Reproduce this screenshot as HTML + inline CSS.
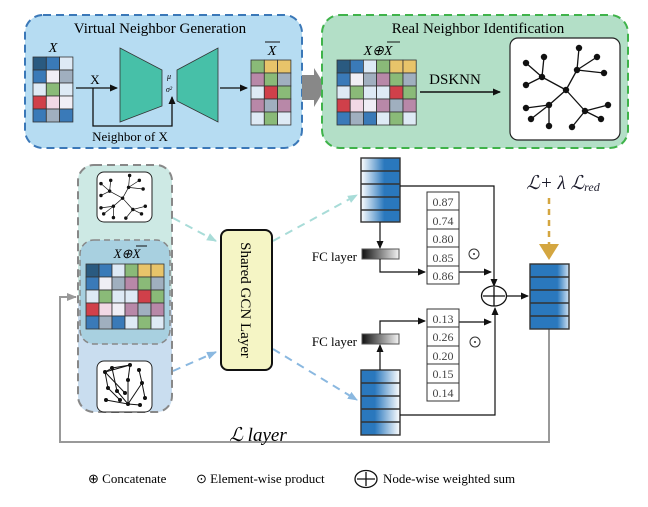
<!DOCTYPE html>
<html><head><meta charset="utf-8"><style>
html,body{margin:0;padding:0;background:#fff;}
svg{display:block;font-family:"Liberation Serif",serif;}
</style></head><body>
<svg width="648" height="507" viewBox="0 0 648 507" xmlns="http://www.w3.org/2000/svg">
<defs>
<marker id="ah" markerWidth="8" markerHeight="8" refX="7" refY="4" orient="auto" markerUnits="userSpaceOnUse"><path d="M0,0.5 L8,4 L0,7.5 Z" fill="#111"/></marker>
<marker id="at" markerWidth="10" markerHeight="10" refX="9" refY="5" orient="auto" markerUnits="userSpaceOnUse"><path d="M0,1 L10,5 L0,9 Z" fill="#a8dcd8"/></marker>
<marker id="ab" markerWidth="10" markerHeight="10" refX="9" refY="5" orient="auto" markerUnits="userSpaceOnUse"><path d="M0,1 L10,5 L0,9 Z" fill="#8ab8e0"/></marker>
<marker id="ag" markerWidth="10" markerHeight="10" refX="9" refY="5" orient="auto" markerUnits="userSpaceOnUse"><path d="M0,1 L10,5 L0,9 Z" fill="#999"/></marker>
<linearGradient id="gTop" x1="0" x2="1"><stop offset="0" stop-color="#ffffff"/><stop offset="0.6" stop-color="#2a78bd"/><stop offset="1" stop-color="#2a78bd"/></linearGradient>
<linearGradient id="gBot" x1="0" x2="1"><stop offset="0" stop-color="#2a78bd"/><stop offset="0.35" stop-color="#2a78bd"/><stop offset="1" stop-color="#ffffff"/></linearGradient>
<linearGradient id="gOut" x1="0" x2="1"><stop offset="0" stop-color="#2a78bd"/><stop offset="0.7" stop-color="#2a78bd"/><stop offset="1" stop-color="#cfe2f3"/></linearGradient>
<linearGradient id="gFC" x1="0" x2="1"><stop offset="0" stop-color="#111"/><stop offset="1" stop-color="#f4f4f4"/></linearGradient>
<g id="tree">
<g stroke="#111" stroke-width="1.3">
<line x1="542" y1="77" x2="526" y2="63"/><line x1="542" y1="77" x2="544" y2="57"/><line x1="542" y1="77" x2="526" y2="85"/><line x1="542" y1="77" x2="566" y2="90"/>
<line x1="577" y1="70" x2="579" y2="48"/><line x1="577" y1="70" x2="597" y2="57"/><line x1="577" y1="70" x2="604" y2="73"/><line x1="577" y1="70" x2="566" y2="90"/>
<line x1="566" y1="90" x2="549" y2="105"/><line x1="549" y1="105" x2="526" y2="108"/><line x1="549" y1="105" x2="531" y2="119"/><line x1="549" y1="105" x2="549" y2="126"/>
<line x1="566" y1="90" x2="585" y2="111"/><line x1="585" y1="111" x2="608" y2="105"/><line x1="585" y1="111" x2="601" y2="119"/><line x1="585" y1="111" x2="572" y2="127"/>
</g>
<g fill="#111">
<circle cx="542" cy="77" r="3.2"/><circle cx="526" cy="63" r="3.2"/><circle cx="544" cy="57" r="3.2"/><circle cx="526" cy="85" r="3.2"/><circle cx="566" cy="90" r="3.2"/>
<circle cx="577" cy="70" r="3.2"/><circle cx="579" cy="48" r="3.2"/><circle cx="597" cy="57" r="3.2"/><circle cx="604" cy="73" r="3.2"/>
<circle cx="549" cy="105" r="3.2"/><circle cx="526" cy="108" r="3.2"/><circle cx="531" cy="119" r="3.2"/><circle cx="549" cy="126" r="3.2"/>
<circle cx="585" cy="111" r="3.2"/><circle cx="608" cy="105" r="3.2"/><circle cx="601" cy="119" r="3.2"/><circle cx="572" cy="127" r="3.2"/>
</g>
</g>
</defs>

<rect x="25" y="15" width="277" height="133" rx="18" fill="#b6dcf2" stroke="#3b78b8" stroke-width="2" stroke-dasharray="8,5"/>
<text x="160" y="33" font-size="15" text-anchor="middle">Virtual Neighbor Generation</text>
<text x="53" y="52" font-size="14" font-style="italic" text-anchor="middle">X</text>
<g stroke="#333" stroke-width="0.8">
<rect x="33" y="57" width="13.3" height="13" fill="#2a5a80"/><rect x="46.3" y="57" width="13.3" height="13" fill="#3a7ab8"/><rect x="59.6" y="57" width="13.3" height="13" fill="#deeaf5"/>
<rect x="33" y="70" width="13.3" height="13" fill="#3a7ab8"/><rect x="46.3" y="70" width="13.3" height="13" fill="#f0eef5"/><rect x="59.6" y="70" width="13.3" height="13" fill="#a0afbf"/>
<rect x="33" y="83" width="13.3" height="13" fill="#deeaf5"/><rect x="46.3" y="83" width="13.3" height="13" fill="#8aba78"/><rect x="59.6" y="83" width="13.3" height="13" fill="#deeaf5"/>
<rect x="33" y="96" width="13.3" height="13" fill="#d0404a"/><rect x="46.3" y="96" width="13.3" height="13" fill="#f2d8e5"/><rect x="59.6" y="96" width="13.3" height="13" fill="#f0eef5"/>
<rect x="33" y="109" width="13.3" height="13" fill="#3a7ab8"/><rect x="46.3" y="109" width="13.3" height="13" fill="#a0afbf"/><rect x="59.6" y="109" width="13.3" height="13" fill="#3a7ab8"/>
</g>
<text x="95" y="84" font-size="13" text-anchor="middle">X</text>
<line x1="76" y1="88" x2="117" y2="88" stroke="#111" stroke-width="1.3" marker-end="url(#ah)"/>
<polyline points="93,88 93,126 172,126 172,97" fill="none" stroke="#111" stroke-width="1.3" marker-end="url(#ah)"/>
<polygon points="120,48 162,70 162,106 120,122" fill="#47c0a8" stroke="#333" stroke-width="0.8"/>
<polygon points="177,70 218,48 218,122 177,101" fill="#47c0a8" stroke="#333" stroke-width="0.8"/>
<text x="169" y="79" font-size="8" font-style="italic" text-anchor="middle">μ</text>
<text x="169" y="92" font-size="8" font-style="italic" text-anchor="middle">σ²</text>
<text x="130" y="141" font-size="13" text-anchor="middle">Neighbor of X</text>
<line x1="220" y1="88" x2="247" y2="88" stroke="#111" stroke-width="1.3" marker-end="url(#ah)"/>
<text x="272" y="55" font-size="14" font-style="italic" text-anchor="middle">X</text>
<line x1="265" y1="42" x2="280" y2="42" stroke="#111" stroke-width="1"/>
<g stroke="#333" stroke-width="0.8">
<rect x="251" y="60" width="13.3" height="13" fill="#8aba78"/><rect x="264.3" y="60" width="13.3" height="13" fill="#e8c46a"/><rect x="277.6" y="60" width="13.3" height="13" fill="#e8c46a"/>
<rect x="251" y="73" width="13.3" height="13" fill="#b888a8"/><rect x="264.3" y="73" width="13.3" height="13" fill="#8aba78"/><rect x="277.6" y="73" width="13.3" height="13" fill="#a0afbf"/>
<rect x="251" y="86" width="13.3" height="13" fill="#deeaf5"/><rect x="264.3" y="86" width="13.3" height="13" fill="#d0404a"/><rect x="277.6" y="86" width="13.3" height="13" fill="#8aba78"/>
<rect x="251" y="99" width="13.3" height="13" fill="#b888a8"/><rect x="264.3" y="99" width="13.3" height="13" fill="#a0afbf"/><rect x="277.6" y="99" width="13.3" height="13" fill="#b888a8"/>
<rect x="251" y="112" width="13.3" height="13" fill="#deeaf5"/><rect x="264.3" y="112" width="13.3" height="13" fill="#8aba78"/><rect x="277.6" y="112" width="13.3" height="13" fill="#deeaf5"/>
</g>
<rect x="302" y="75" width="12" height="25" fill="#888"/>
<polygon points="314,68 326,87 314,107" fill="#888"/>

<rect x="322" y="15" width="306" height="133" rx="18" fill="#b3dfc7" stroke="#3fb34a" stroke-width="2" stroke-dasharray="8,5"/>
<text x="478" y="33" font-size="15" text-anchor="middle">Real Neighbor Identification</text>
<text x="378" y="55" font-size="14" font-style="italic" text-anchor="middle">X⊕X</text>
<line x1="387" y1="42" x2="400" y2="42" stroke="#111" stroke-width="1"/>
<g stroke="#333" stroke-width="0.8">
<rect x="337" y="60" width="13.2" height="13" fill="#2a5a80"/><rect x="350.2" y="60" width="13.2" height="13" fill="#3a7ab8"/><rect x="363.4" y="60" width="13.2" height="13" fill="#deeaf5"/><rect x="376.6" y="60" width="13.2" height="13" fill="#8aba78"/><rect x="389.8" y="60" width="13.2" height="13" fill="#e8c46a"/><rect x="403" y="60" width="13.2" height="13" fill="#e8c46a"/>
<rect x="337" y="73" width="13.2" height="13" fill="#3a7ab8"/><rect x="350.2" y="73" width="13.2" height="13" fill="#f0eef5"/><rect x="363.4" y="73" width="13.2" height="13" fill="#a0afbf"/><rect x="376.6" y="73" width="13.2" height="13" fill="#b888a8"/><rect x="389.8" y="73" width="13.2" height="13" fill="#8aba78"/><rect x="403" y="73" width="13.2" height="13" fill="#a0afbf"/>
<rect x="337" y="86" width="13.2" height="13" fill="#deeaf5"/><rect x="350.2" y="86" width="13.2" height="13" fill="#8aba78"/><rect x="363.4" y="86" width="13.2" height="13" fill="#deeaf5"/><rect x="376.6" y="86" width="13.2" height="13" fill="#deeaf5"/><rect x="389.8" y="86" width="13.2" height="13" fill="#d0404a"/><rect x="403" y="86" width="13.2" height="13" fill="#8aba78"/>
<rect x="337" y="99" width="13.2" height="13" fill="#d0404a"/><rect x="350.2" y="99" width="13.2" height="13" fill="#f2d8e5"/><rect x="363.4" y="99" width="13.2" height="13" fill="#f0eef5"/><rect x="376.6" y="99" width="13.2" height="13" fill="#b888a8"/><rect x="389.8" y="99" width="13.2" height="13" fill="#a0afbf"/><rect x="403" y="99" width="13.2" height="13" fill="#b888a8"/>
<rect x="337" y="112" width="13.2" height="13" fill="#3a7ab8"/><rect x="350.2" y="112" width="13.2" height="13" fill="#a0afbf"/><rect x="363.4" y="112" width="13.2" height="13" fill="#3a7ab8"/><rect x="376.6" y="112" width="13.2" height="13" fill="#deeaf5"/><rect x="389.8" y="112" width="13.2" height="13" fill="#8aba78"/><rect x="403" y="112" width="13.2" height="13" fill="#deeaf5"/>
</g>
<text x="455" y="84" font-size="15" text-anchor="middle">DSKNN</text>
<line x1="420" y1="92" x2="500" y2="92" stroke="#111" stroke-width="1.5" marker-end="url(#ah)"/>
<rect x="510" y="38" width="110" height="102" rx="8" fill="#fff" stroke="#222" stroke-width="1.2"/>
<use href="#tree"/>

<path d="M94,165 H156 Q172,165 172,181 V245 H78 V181 Q78,165 94,165 Z" fill="#cde9e4"/>
<path d="M78,330 H172 V396 Q172,412 156,412 H94 Q78,412 78,396 Z" fill="#c9ddef"/>
<rect x="78" y="240" width="94" height="100" fill="#cde9e4"/>
<rect x="78" y="300" width="94" height="40" fill="#c9ddef"/>
<rect x="80" y="240" width="90" height="104" rx="14" fill="#a8d0e0" stroke="#888" stroke-width="1.5" stroke-dasharray="6,4"/>
<rect x="78" y="165" width="94" height="247" rx="16" fill="none" stroke="#888" stroke-width="2" stroke-dasharray="8,5"/>
<rect x="97" y="172" width="55" height="50" rx="7" fill="#fff" stroke="#222" stroke-width="1"/>
<g transform="translate(101,175.5) scale(0.54) translate(-526,-48)"><use href="#tree"/></g>
<text x="127" y="258" font-size="13" font-style="italic" text-anchor="middle">X⊕X</text>
<line x1="136" y1="246" x2="147" y2="246" stroke="#111" stroke-width="1"/>
<g stroke="#333" stroke-width="0.8">
<rect x="86" y="264" width="13" height="13" fill="#2a5a80"/><rect x="99" y="264" width="13" height="13" fill="#3a7ab8"/><rect x="112" y="264" width="13" height="13" fill="#deeaf5"/><rect x="125" y="264" width="13" height="13" fill="#8aba78"/><rect x="138" y="264" width="13" height="13" fill="#e8c46a"/><rect x="151" y="264" width="13" height="13" fill="#e8c46a"/>
<rect x="86" y="277" width="13" height="13" fill="#3a7ab8"/><rect x="99" y="277" width="13" height="13" fill="#f0eef5"/><rect x="112" y="277" width="13" height="13" fill="#a0afbf"/><rect x="125" y="277" width="13" height="13" fill="#b888a8"/><rect x="138" y="277" width="13" height="13" fill="#8aba78"/><rect x="151" y="277" width="13" height="13" fill="#a0afbf"/>
<rect x="86" y="290" width="13" height="13" fill="#deeaf5"/><rect x="99" y="290" width="13" height="13" fill="#8aba78"/><rect x="112" y="290" width="13" height="13" fill="#deeaf5"/><rect x="125" y="290" width="13" height="13" fill="#deeaf5"/><rect x="138" y="290" width="13" height="13" fill="#d0404a"/><rect x="151" y="290" width="13" height="13" fill="#8aba78"/>
<rect x="86" y="303" width="13" height="13" fill="#d0404a"/><rect x="99" y="303" width="13" height="13" fill="#f2d8e5"/><rect x="112" y="303" width="13" height="13" fill="#f0eef5"/><rect x="125" y="303" width="13" height="13" fill="#b888a8"/><rect x="138" y="303" width="13" height="13" fill="#a0afbf"/><rect x="151" y="303" width="13" height="13" fill="#b888a8"/>
<rect x="86" y="316" width="13" height="13" fill="#3a7ab8"/><rect x="99" y="316" width="13" height="13" fill="#a0afbf"/><rect x="112" y="316" width="13" height="13" fill="#3a7ab8"/><rect x="125" y="316" width="13" height="13" fill="#deeaf5"/><rect x="138" y="316" width="13" height="13" fill="#8aba78"/><rect x="151" y="316" width="13" height="13" fill="#deeaf5"/>
</g>
<rect x="97" y="361" width="55" height="51" rx="7" fill="#fff" stroke="#222" stroke-width="1"/>
<g stroke="#111" stroke-width="1">
<line x1="105" y1="372" x2="112" y2="368"/><line x1="112" y1="368" x2="130" y2="365"/><line x1="105" y1="372" x2="130" y2="365"/><line x1="105" y1="372" x2="125" y2="393"/><line x1="112" y1="368" x2="117" y2="391"/><line x1="105" y1="372" x2="108" y2="388"/><line x1="108" y1="388" x2="120" y2="400"/><line x1="130" y1="365" x2="128" y2="380"/><line x1="128" y1="380" x2="128" y2="404"/><line x1="128" y1="404" x2="142" y2="383"/><line x1="142" y1="383" x2="145" y2="398"/><line x1="128" y1="404" x2="106" y2="400"/><line x1="128" y1="404" x2="140" y2="405"/><line x1="139" y1="370" x2="142" y2="383"/><line x1="117" y1="391" x2="128" y2="404"/>
</g>
<g fill="#111">
<circle cx="105" cy="372" r="2"/><circle cx="112" cy="368" r="2"/><circle cx="130" cy="365" r="2"/><circle cx="125" cy="393" r="2"/><circle cx="117" cy="391" r="2"/><circle cx="108" cy="388" r="2"/><circle cx="120" cy="400" r="2"/><circle cx="128" cy="380" r="2"/><circle cx="128" cy="404" r="2"/><circle cx="142" cy="383" r="2"/><circle cx="145" cy="398" r="2"/><circle cx="106" cy="400" r="2"/><circle cx="140" cy="405" r="2"/><circle cx="139" cy="370" r="2"/>
</g>

<line x1="173" y1="218" x2="216" y2="241" stroke="#a8dcd8" stroke-width="2" stroke-dasharray="8,6" marker-end="url(#at)"/>
<line x1="173" y1="371" x2="216" y2="352" stroke="#8ab8e0" stroke-width="2" stroke-dasharray="8,6" marker-end="url(#ab)"/>
<line x1="273" y1="241" x2="357" y2="195" stroke="#a8dcd8" stroke-width="2" stroke-dasharray="8,6" marker-end="url(#at)"/>
<line x1="273" y1="349" x2="357" y2="400" stroke="#8ab8e0" stroke-width="2" stroke-dasharray="8,6" marker-end="url(#ab)"/>

<rect x="221" y="230" width="51" height="140" rx="7" fill="#f5f5c5" stroke="#111" stroke-width="2"/>
<text transform="translate(241,300) rotate(90)" font-size="15" text-anchor="middle">Shared GCN Layer</text>

<polyline points="549,329 549,442 60,442 60,297 76,297" fill="none" stroke="#999" stroke-width="2" marker-end="url(#ag)"/>
<text x="258" y="441" font-size="19" font-style="italic" text-anchor="middle">ℒ layer</text>

<g stroke="#333" stroke-width="1.4">
<rect x="361" y="158" width="39" height="64" fill="url(#gTop)"/>
<line x1="361" y1="171" x2="400" y2="171"/><line x1="361" y1="184" x2="400" y2="184"/><line x1="361" y1="197" x2="400" y2="197"/><line x1="361" y1="210" x2="400" y2="210"/>
<rect x="361" y="370" width="39" height="65" fill="url(#gBot)"/>
<line x1="361" y1="383" x2="400" y2="383"/><line x1="361" y1="396" x2="400" y2="396"/><line x1="361" y1="409" x2="400" y2="409"/><line x1="361" y1="422" x2="400" y2="422"/>
<rect x="530" y="264" width="39" height="65" fill="url(#gOut)"/>
<line x1="530" y1="277" x2="569" y2="277"/><line x1="530" y1="290" x2="569" y2="290"/><line x1="530" y1="303" x2="569" y2="303"/><line x1="530" y1="316" x2="569" y2="316"/>
</g>
<g stroke="#555" stroke-width="1">
<rect x="362" y="249" width="37" height="10" fill="url(#gFC)"/>
<rect x="362" y="334" width="37" height="10" fill="url(#gFC)"/>
</g>
<text x="357" y="261" font-size="13" text-anchor="end">FC layer</text>
<text x="357" y="346" font-size="13" text-anchor="end">FC layer</text>

<g fill="none" stroke="#111" stroke-width="1.2">
<line x1="380" y1="222" x2="380" y2="248" marker-end="url(#ah)"/>
<polyline points="380,259 380,272 425,272" marker-end="url(#ah)"/>
<polyline points="400,186 494,186 494,286" marker-end="url(#ah)"/>
<line x1="459" y1="272" x2="491" y2="272" marker-end="url(#ah)"/>
<line x1="380" y1="370" x2="380" y2="345" marker-end="url(#ah)"/>
<polyline points="380,334 380,321 425,321" marker-end="url(#ah)"/>
<line x1="459" y1="322" x2="491" y2="322" marker-end="url(#ah)"/>
<polyline points="400,415 495,415 495,308" marker-end="url(#ah)"/>
<line x1="507" y1="296" x2="528" y2="296" marker-end="url(#ah)"/>
</g>
<ellipse cx="494" cy="296" rx="12.5" ry="10" fill="#fff" stroke="#111" stroke-width="1.3"/>
<line x1="483" y1="296" x2="505" y2="296" stroke="#111" stroke-width="1.3"/>
<line x1="494" y1="287" x2="494" y2="306" stroke="#111" stroke-width="1.3"/>

<g stroke="#333" stroke-width="1" fill="#fff">
<rect x="427" y="192" width="32" height="18"/><rect x="427" y="210" width="32" height="19"/><rect x="427" y="229" width="32" height="18"/><rect x="427" y="247" width="32" height="19"/><rect x="427" y="266" width="32" height="18"/>
<rect x="427" y="309" width="32" height="18"/><rect x="427" y="327" width="32" height="19"/><rect x="427" y="346" width="32" height="18"/><rect x="427" y="364" width="32" height="19"/><rect x="427" y="383" width="32" height="18"/>
</g>
<g font-size="12" fill="#444" text-anchor="middle">
<text x="443" y="206">0.87</text><text x="443" y="225">0.74</text><text x="443" y="243">0.80</text><text x="443" y="262">0.85</text><text x="443" y="280">0.86</text>
<text x="443" y="323">0.13</text><text x="443" y="341">0.26</text><text x="443" y="360">0.20</text><text x="443" y="378">0.15</text><text x="443" y="397">0.14</text>
</g>
<circle cx="474" cy="254" r="5" fill="none" stroke="#333" stroke-width="1"/><circle cx="474" cy="254" r="1" fill="#333"/>
<circle cx="475" cy="342" r="5" fill="none" stroke="#333" stroke-width="1"/><circle cx="475" cy="342" r="1" fill="#333"/>

<text x="563" y="189" font-size="19" font-style="italic" text-anchor="middle" fill="#1a1a2a">ℒ+ λ ℒ<tspan font-size="12" dy="2">red</tspan></text>
<line x1="549" y1="198" x2="549" y2="248" stroke="#d4a640" stroke-width="2.5" stroke-dasharray="6,5"/>
<polygon points="539,244 559,244 549,260" fill="#d4a640"/>

<g font-size="13">
<text x="88" y="483">⊕ Concatenate</text>
<text x="196" y="483">⊙ Element-wise product</text>
<ellipse cx="366" cy="479" rx="11" ry="8.5" fill="none" stroke="#111" stroke-width="1.3"/>
<line x1="357" y1="479" x2="375" y2="479" stroke="#111" stroke-width="1.3"/><line x1="366" y1="472" x2="366" y2="486" stroke="#111" stroke-width="1.3"/>
<text x="383" y="483">Node-wise weighted sum</text>
</g>
</svg>
</body></html>
